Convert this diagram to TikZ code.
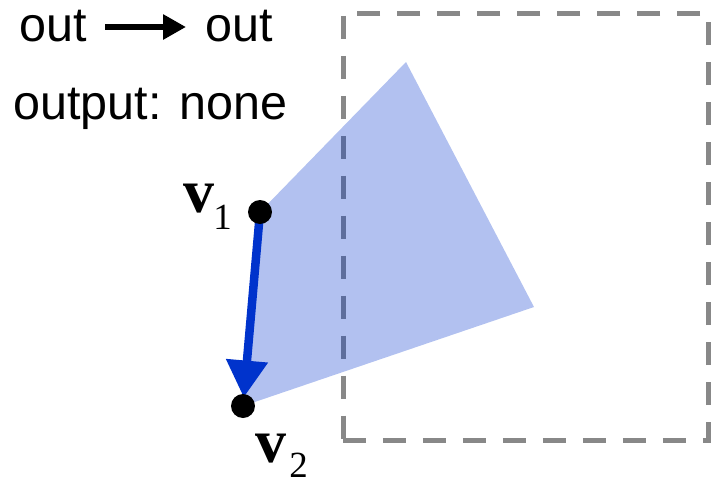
\documentclass[tikz,border=0pt]{standalone}
\usepackage{fontspec}
\setmainfont{Liberation Serif}
\newfontfamily\labelsans{Liberation Sans}
\usetikzlibrary{arrows.meta}
\definecolor{rectgray}{HTML}{888888}
\definecolor{vblue}{HTML}{0033CC}
\tikzset{
  dashrect/.style={draw=rectgray, line width=0.1cm, dash pattern=on 0.46cm off 0.34cm, line cap=butt},
  facefill/.style={fill=vblue, fill opacity=0.3, draw=none},
  vertexdot/.style={circle, fill=black, inner sep=0pt, minimum size=0.48cm},
  toptext/.style={anchor=base west, inner sep=0pt, font=\labelsans\fontsize{27.6}{32}\selectfont},
  vname/.style={anchor=base west, inner sep=0pt, font=\fontsize{35.3}{40}\selectfont\bfseries},
  vsub/.style={anchor=base west, inner sep=0pt, font=\fontsize{21}{24}\selectfont},
  edgearrow/.style={draw=vblue, line width=0.17cm, -{Triangle[length=0.74cm,width=0.8cm]}, shorten >=0.17cm},
  legendarrow/.style={draw=black, line width=0.12cm, -{Triangle[length=0.46cm,width=0.48cm]}}
}
\begin{document}
\begin{tikzpicture}[x=0.02cm, y=-0.02cm]
\useasboundingbox (0,0) rectangle (711,481);
% dashed frame
\draw[dashrect] (343,440) -- (708,440) -- (708,13) -- (343,13) -- cycle;
% face
\coordinate (p1) at (260,212);
\coordinate (p2) at (406,62);
\coordinate (p3) at (534,307);
\coordinate (p4) at (243,406);
\fill[facefill] (p1) -- (p2) -- (p3) -- (p4) -- cycle;
% edge arrow
\draw[edgearrow] (p1) -- (p4);
\node[vertexdot] (v1) at (p1) {};
\node[vertexdot] (v2) at (p4) {};
% labels
\node[vname] (v1n) at (183,212) {v};
\node[vsub] (v1s) at (213,229) {1};
\node[vname] (v2n) at (255,462) {v};
\node[vsub] (v2s) at (289,477) {2};
% top texts
\node[toptext] (o1) at (19,41) {out};
\node[toptext] (o2) at (205,41) {out};
\coordinate (a1) at (105,27);
\coordinate (a2) at (186,27);
\draw[legendarrow] (a1) -- (a2);
\node[toptext] (outp) at (13,119) {output: none};
\end{tikzpicture}
\end{document}
